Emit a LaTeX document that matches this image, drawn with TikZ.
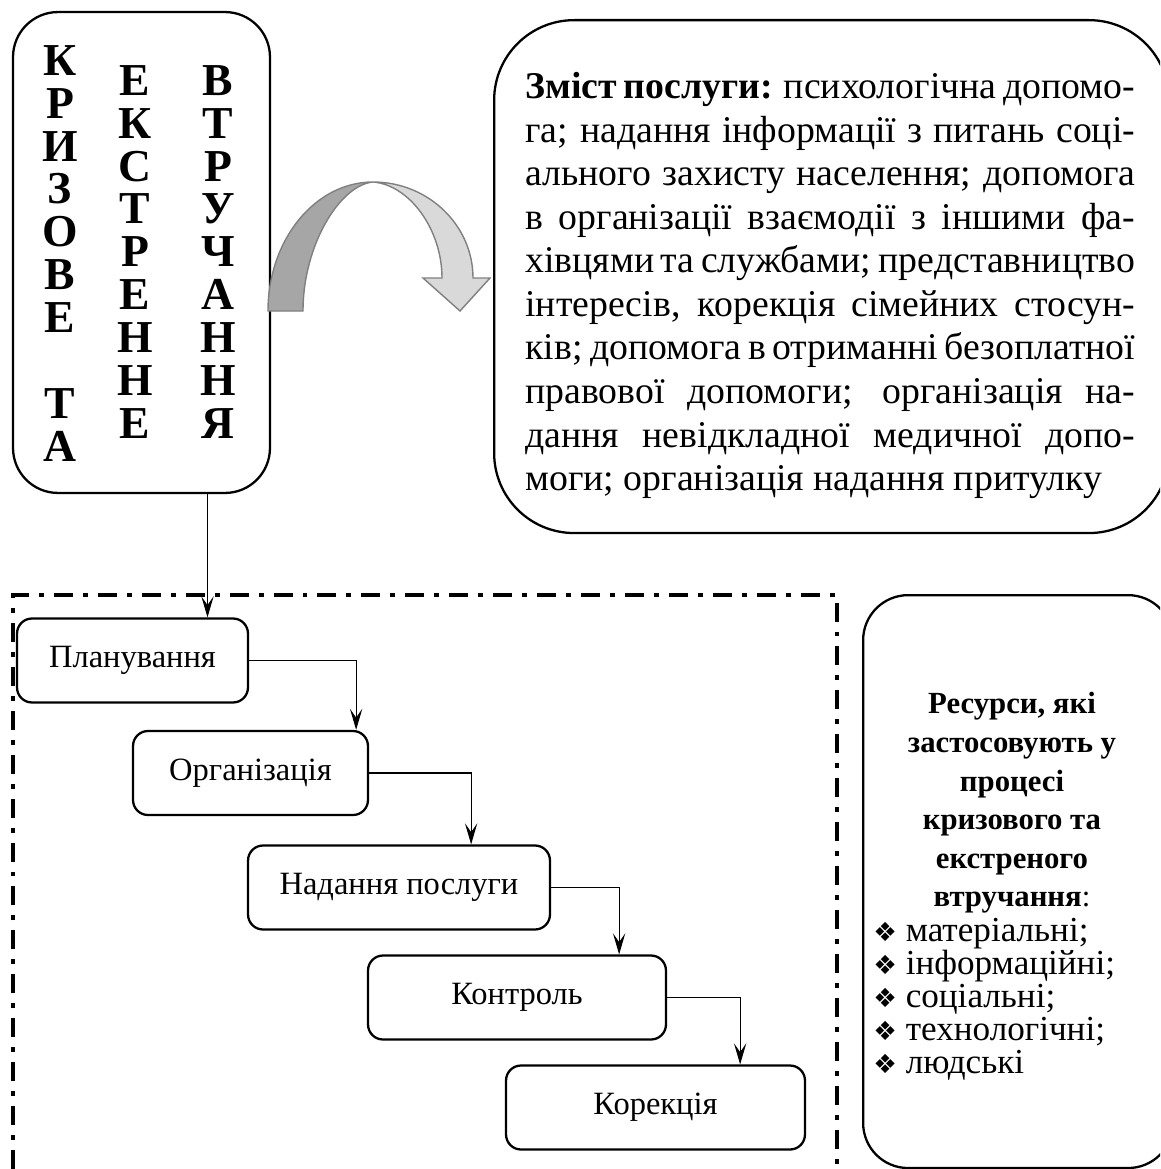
\documentclass[tikz,border=0pt]{standalone}
\usepackage{fontspec}
\setmainfont{Liberation Serif}
\newfontfamily\symb{DejaVu Sans}
\usetikzlibrary{arrows.meta}

\definecolor{temna}{HTML}{A6A6A6}
\definecolor{svitla}{HTML}{D9D9D9}
\definecolor{kontur}{HTML}{808080}

\tikzset{
  etap/.style={draw, line width=1.3pt, rounded corners=0.3cm, minimum height=1.68cm,
    font=\fontsize{18.5}{21}\selectfont},
  ramka/.style={draw, line width=1.3pt},
  bukvy/.style={anchor=north, inner sep=0, align=center, font=\fontsize{26}{24.4}\selectfont\bfseries},
  zv/.style={-{Stealth[length=12pt,width=7pt,inset=5pt]}, line width=0.6pt}
}

\begin{document}
\begin{tikzpicture}[x=0.02cm, y=-0.02cm]
        \useasboundingbox (0,0) rectangle (1160,1169);
        \clip (0,0) rectangle (1160,1169);

        % Блок ліворуч: букви стовпчиками
        \node[ramka, rounded corners=0.9cm, minimum width=5.14cm, minimum height=9.62cm] (kryza) at (141.5,252.5) {};
        \node[bukvy] (st1) at (60,45) {К\\Р\\И\\З\\О\\В\\Е\\[24.4pt]Т\\А};
        \node[bukvy] (st2) at (135,65) {Е\\К\\С\\Т\\Р\\Е\\Н\\Н\\Е};
        \node[bukvy] (st3) at (218,65) {В\\Т\\Р\\У\\Ч\\А\\Н\\Н\\Я};

        % Зміст послуги
        \node[ramka, rounded corners=1.6cm, minimum width=13.5cm, minimum height=10.26cm, anchor=north west] (zmist) at (493,19) {};
        \node[anchor=north west, inner sep=0, text width=12.2cm, align=justify,
              font=\fontsize{21.5}{24.8}\selectfont] (zmtekst) at (525,72)
            {\tolerance=10000\hyphenpenalty=10000
             \textbf{Зміст послуги:} психологічна допомо-\linebreak
             га; надання інформації з питань соці-\linebreak
             ального захисту населення; допомога\linebreak
             в організації взаємодії з іншими фа-\linebreak
             хівцями та службами; представництво\linebreak
             інтересів, корекція сімейних стосун-\linebreak
             ків; допомога в отриманні безоплатної\linebreak
             правової допомоги; організація на-\linebreak
             дання невідкладної медичної допо-\linebreak
             моги; організація надання притулку};

        % Вигнута стрілка
        \filldraw[fill=temna, draw=kontur, line width=0.8pt]
            (268,311) .. controls (268,240) and (315,182) .. (373,182)
            .. controls (340,185) and (303,245) .. (303,311) -- cycle;
        \filldraw[fill=svitla, draw=kontur, line width=0.8pt]
            (373,182) .. controls (428,182) and (473,225) .. (473,278)
            -- (490,278) -- (460,311) -- (423,278) -- (442,278)
            .. controls (442,230) and (410,185) .. (373,182) -- cycle;

        % Рамка штрих-пунктиром
        \draw[line width=2.3pt, dash pattern=on 10.8pt off 5.7pt on 2.8pt off 5.7pt]
            (13,1169) -- (13,595) -- (837,595) -- (837,1169);

        % Етапи
        \node[etap, minimum width=4.62cm] (plan) at (132.5,660.5) {Планування};
        \node[etap, minimum width=4.7cm] (org) at (250.5,773) {Організація};
        \node[etap, minimum width=6.04cm] (nad) at (399,887.5) {Надання послуги};
        \node[etap, minimum width=5.96cm] (kon) at (517,997.5) {Контроль};
        \node[etap, minimum width=5.98cm] (kor) at (655.5,1107.5) {Корекція};

        % Стрілки між етапами
        \draw[zv] ([xshift=1.32cm]kryza.south) -- ([xshift=1.32cm]kryza.south |- plan.north);
        \draw[zv] (plan.east) -| ([xshift=-0.26cm]org.north east);
        \draw[zv] (org.east) -| ([xshift=-1.6cm]nad.north east);
        \draw[zv] (nad.east) -| ([xshift=-0.96cm]kon.north east);
        \draw[zv] (kon.east) -| ([xshift=-1.32cm]kor.north east);

        % Ресурси
        \node[ramka, rounded corners=0.9cm, minimum width=6.2cm, minimum height=11.46cm, anchor=north west] (resursy) at (862,594) {};
        \node[anchor=north, inner sep=0, align=center, font=\fontsize{17.5}{22}\selectfont] (reszag) at (1012,692)
            {\textbf{Ресурси, які}\\\textbf{застосовують у}\\\textbf{процесі}\\\textbf{кризового та}\\\textbf{екстреного}\\\textbf{втручання}:};
        \node[anchor=north west, inner sep=0, align=left, font=\fontsize{20}{18.8}\selectfont] (resvyd) at (873,918)
            {{\symb\fontsize{15}{15}\selectfont ❖}~матеріальні;\\
             {\symb\fontsize{15}{15}\selectfont ❖}~інформаційні;\\
             {\symb\fontsize{15}{15}\selectfont ❖}~соціальні;\\
             {\symb\fontsize{15}{15}\selectfont ❖}~технологічні;\\
             {\symb\fontsize{15}{15}\selectfont ❖}~людські};
\end{tikzpicture}
\end{document}
